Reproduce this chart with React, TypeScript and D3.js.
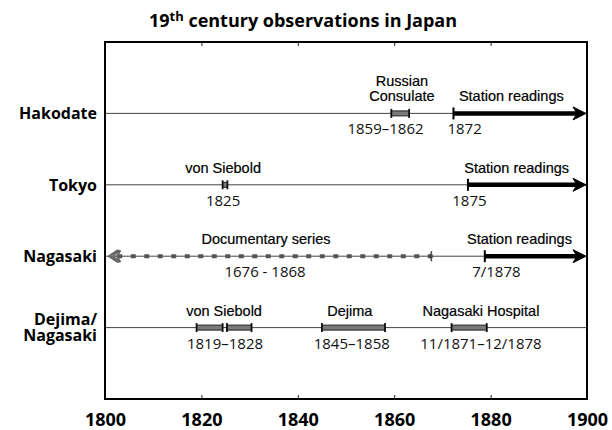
import React, { useEffect, useRef } from "react";
import * as d3 from "d3";

// rows from top to bottom, "|" splits a two-line name
const rowNames = ["Hakodate", "Tokyo", "Nagasaki", "Dejima/|Nagasaki"];
const yearTicks = [1800, 1820, 1840, 1860, 1880, 1900];

// short stays, drawn as bracketed bars
const periods = [
  { row: 0, from: 1859.4, to: 1863.1 },
  { row: 1, from: 1824.4, to: 1825.4 },
  { row: 3, from: 1819, to: 1824.4 },
  { row: 3, from: 1825.3, to: 1830.4 },
  { row: 3, from: 1845, to: 1858.1 },
  { row: 3, from: 1871.9, to: 1879.2 },
];

// station readings running on past 1900
const stations = [
  { row: 0, from: 1872.3 },
  { row: 1, from: 1875.3 },
  { row: 2, from: 1878.8 },
];

// documentary series, starts before the axis
const documentary = [{ row: 2, from: 1676, to: 1868 }];

// text above and below each line, placed at a year
const notes = [
  { row: 0, at: 1861.6, text: ["Russian", "Consulate"], dateAt: 1858.2, date: "1859–1862" },
  { row: 0, at: 1884.3, text: ["Station readings"], dateAt: 1874.6, date: "1872" },
  { row: 1, at: 1824.5, text: ["von Siebold"], dateAt: 1824.5, date: "1825" },
  { row: 1, at: 1885.4, text: ["Station readings"], dateAt: 1875.6, date: "1875" },
  { row: 2, at: 1833.4, text: ["Documentary series"], dateAt: 1833.2, date: "1676 - 1868" },
  { row: 2, at: 1886, text: ["Station readings"], dateAt: 1881.2, date: "7/1878" },
  { row: 3, at: 1824.7, text: ["von Siebold"], dateAt: 1824.9, date: "1819–1828" },
  { row: 3, at: 1850.8, text: ["Dejima"], dateAt: 1851.2, date: "1845–1858" },
  { row: 3, at: 1878, text: ["Nagasaki Hospital"], dateAt: 1878, date: "11/1871–12/1878" },
];

const width = 612;
const height = 430;
const margin = { top: 42, right: 25, bottom: 31, left: 105 };
const titleFont = "'Open Sans', 'DejaVu Sans', sans-serif";
const noteFont = "'Liberation Sans', Arial, sans-serif";

export default function App() {
  const ref = useRef<SVGSVGElement>(null);

  useEffect(() => {
    const svg = d3.select(ref.current);
    svg.selectAll("*").remove();

    const innerWidth = width - margin.left - margin.right;
    const innerHeight = height - margin.top - margin.bottom;

    const x = d3.scaleLinear().domain([1800, 1900]).range([margin.left, margin.left + innerWidth]);
    // five equal bands, the lines sit on the inner boundaries
    const y = d3.scaleLinear().domain([-1, rowNames.length]).range([margin.top, margin.top + innerHeight]);

    // title with superscript
    const title = svg.append("text")
      .attr("x", 303)
      .attr("y", 27)
      .attr("text-anchor", "middle")
      .attr("font-family", titleFont)
      .attr("font-weight", "bold")
      .attr("font-size", 18);
    title.append("tspan").text("19");
    title.append("tspan").attr("font-size", 13).attr("dy", -6).text("th");
    title.append("tspan").attr("dy", 6).text(" century observations in Japan");

    // ticks on the bottom and top of the frame, pointing inwards
    const bottomAxis = d3.axisBottom(x).tickValues(yearTicks).tickFormat(d3.format("d"))
      .tickSizeInner(-4).tickSizeOuter(0).tickPadding(14);
    const gb = svg.append("g")
      .attr("transform", `translate(0, ${margin.top + innerHeight})`)
      .call(bottomAxis);
    gb.select(".domain").remove();
    gb.selectAll("line").attr("stroke", "#222");
    gb.selectAll("text")
      .attr("font-family", titleFont)
      .attr("font-weight", "bold")
      .attr("font-size", 18)
      .attr("fill", "#000");

    const topAxis = d3.axisTop(x).tickValues(yearTicks).tickFormat(() => "")
      .tickSizeInner(-4).tickSizeOuter(0);
    const gt = svg.append("g")
      .attr("transform", `translate(0, ${margin.top})`)
      .call(topAxis);
    gt.select(".domain").remove();
    gt.selectAll("line").attr("stroke", "#222");

    // row baselines
    svg.append("g").selectAll("line")
      .data(rowNames)
      .join("line")
      .attr("x1", x(1800))
      .attr("x2", x(1900))
      .attr("y1", (_, i) => y(i))
      .attr("y2", (_, i) => y(i))
      .attr("stroke", "#444")
      .attr("stroke-width", 1);

    // row names
    const names = svg.append("g")
      .attr("font-family", titleFont)
      .attr("font-weight", "bold")
      .attr("font-size", 16)
      .attr("text-anchor", "end");
    rowNames.forEach((name, i) => {
      const parts = name.split("|");
      parts.forEach((p, j) => {
        names.append("text")
          .attr("x", 97)
          .attr("y", y(i) + 6 + (j - (parts.length - 1) / 2) * 16 - (parts.length > 1 ? 1 : 0))
          .text(p);
      });
    });

    // documentary series, dashed and leaving the chart on the left
    documentary.forEach(d => {
      const yy = y(d.row);
      const left = Math.max(x(d.from), x(1800));
      svg.append("line")
        .attr("x1", x(d.to))
        .attr("x2", left + 12)
        .attr("y1", yy)
        .attr("y2", yy)
        .attr("stroke", "#555")
        .attr("stroke-width", 4)
        .attr("stroke-dasharray", "5 8.5");
      svg.append("path")
        .attr("d", `M${x(d.to) - 1},${yy - 5} Q${x(d.to) - 3},${yy} ${x(d.to) - 1},${yy + 5}`)
        .attr("fill", "none")
        .attr("stroke", "#333")
        .attr("stroke-width", 1.3);
      // feathered arrowhead pointing left
      [0, 4, 8].forEach(o => {
        svg.append("path")
          .attr("d", `M${left + 13 + o * 0.3},${yy - 6} L${left + 4 + o},${yy} L${left + 13 + o * 0.3},${yy + 6}`)
          .attr("fill", "none")
          .attr("stroke", "#666")
          .attr("stroke-width", 2);
      });
    });

    // bracketed periods
    const pg = svg.append("g");
    periods.forEach(d => {
      const yy = y(d.row);
      pg.append("rect")
        .attr("x", x(d.from))
        .attr("y", yy - 2.5)
        .attr("width", x(d.to) - x(d.from))
        .attr("height", 5)
        .attr("fill", "#7a7a7a")
        .attr("stroke", "#222")
        .attr("stroke-width", 1);
      [d.from, d.to].forEach(v => {
        pg.append("line")
          .attr("x1", x(v))
          .attr("x2", x(v))
          .attr("y1", yy - 4.5)
          .attr("y2", yy + 4.5)
          .attr("stroke", "#111")
          .attr("stroke-width", 1.8);
      });
    });

    // station readings arrows
    stations.forEach(d => {
      const yy = y(d.row);
      const tip = x(1900) - 1;
      svg.append("line")
        .attr("x1", x(d.from))
        .attr("x2", x(d.from))
        .attr("y1", yy - 6)
        .attr("y2", yy + 6)
        .attr("stroke", "#000")
        .attr("stroke-width", 2);
      svg.append("line")
        .attr("x1", x(d.from))
        .attr("x2", tip - 8)
        .attr("y1", yy)
        .attr("y2", yy)
        .attr("stroke", "#000")
        .attr("stroke-width", 4.5);
      svg.append("path")
        .attr("d", `M${tip},${yy} L${tip - 13},${yy - 6.5} L${tip - 9},${yy} L${tip - 13},${yy + 6.5} Z`)
        .attr("fill", "#000")
        .attr("stroke", "#000")
        .attr("stroke-width", 1)
        .attr("stroke-linejoin", "round");
    });

    // annotations
    const ng = svg.append("g").attr("text-anchor", "middle");
    notes.forEach(d => {
      const yy = y(d.row);
      d.text.forEach((t, j) => {
        ng.append("text")
          .attr("x", x(d.at))
          .attr("y", yy - 12 - (d.text.length - 1 - j) * 15)
          .attr("font-family", noteFont)
          .attr("font-size", 14.5)
          .attr("fill", "#000")
          .attr("stroke", "#000")
          .attr("stroke-width", 0.2)
          .text(t);
      });
      ng.append("text")
        .attr("x", x(d.dateAt))
        .attr("y", yy + 21)
        .attr("font-family", titleFont)
        .attr("font-size", 15)
        .attr("fill", "#111")
        .text(d.date);
    });

    // frame
    svg.append("rect")
      .attr("x", margin.left)
      .attr("y", margin.top)
      .attr("width", innerWidth)
      .attr("height", innerHeight)
      .attr("fill", "none")
      .attr("stroke", "#000")
      .attr("stroke-width", 2);
  }, []);

  return (
    <svg
      ref={ref}
      width={width}
      height={height}
      style={{ position: "absolute", left: 0, top: 0, background: "#fff" }}
    />
  );
}
